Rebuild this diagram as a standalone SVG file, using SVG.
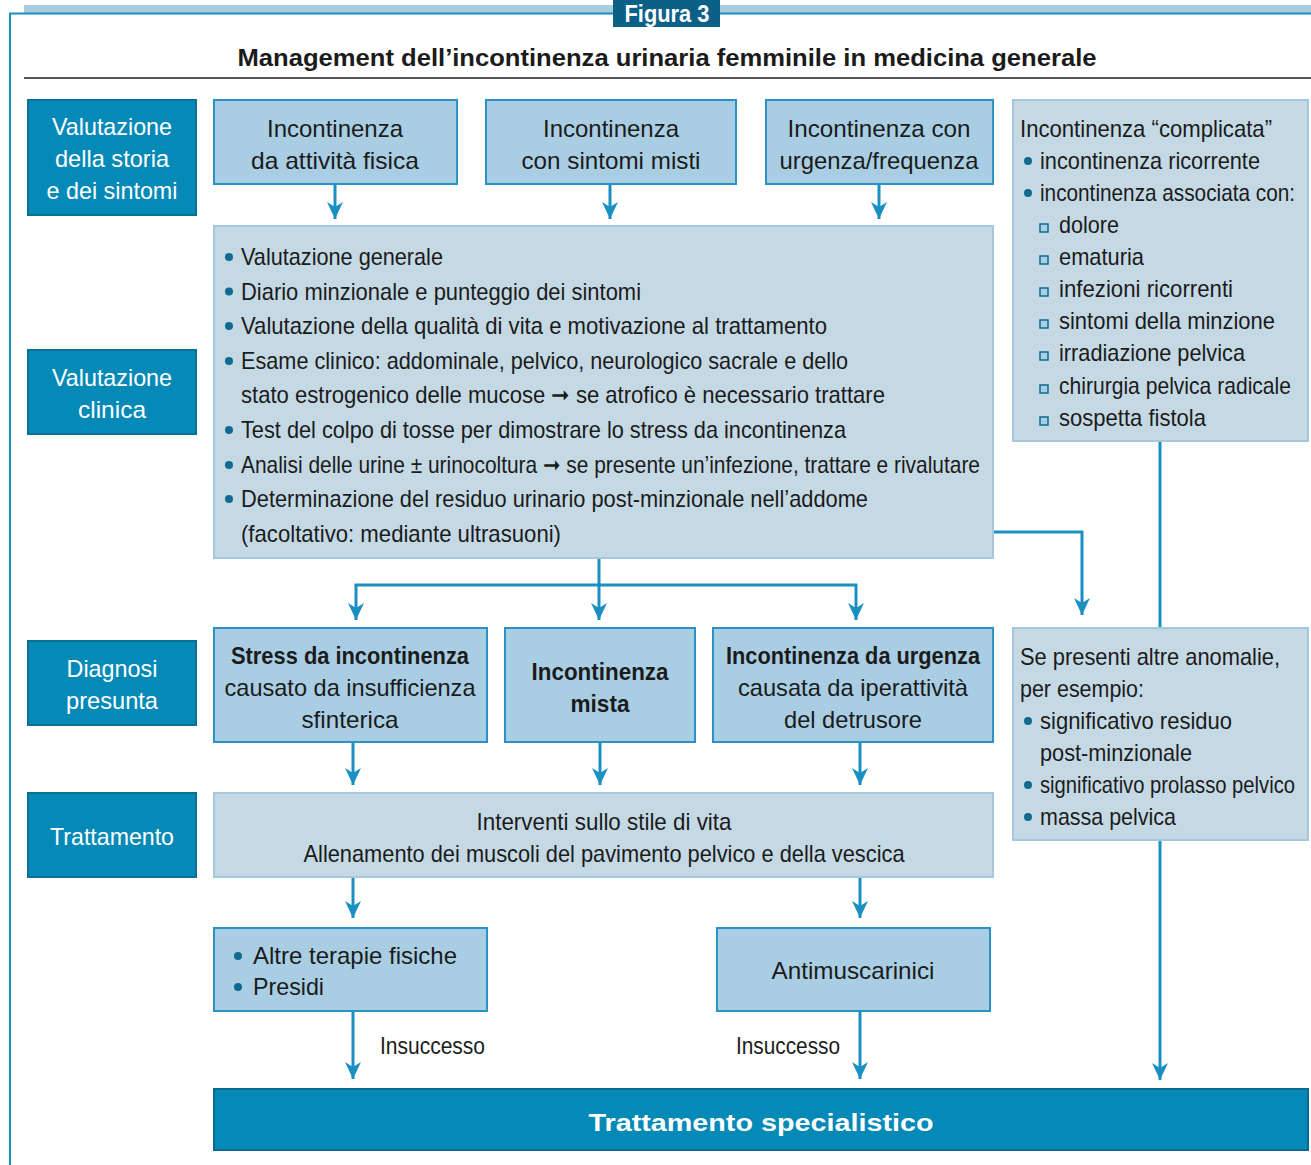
<svg xmlns="http://www.w3.org/2000/svg" width="1311" height="1165" viewBox="0 0 1311 1165">
<defs>
<marker id="ah" viewBox="0 0 17 16" refX="17" refY="8" markerWidth="17" markerHeight="16" markerUnits="userSpaceOnUse" orient="auto">
<path d="M0,0 L17,8 L0,16 L5,8 Z" fill="#1a8fc1"/>
</marker>
<style>
text{font-family:"Liberation Sans Narrow","Liberation Sans",Arial,sans-serif;fill:#1b1b1b;font-size:24px}
.w{fill:#ffffff}
.b{font-weight:bold}
.c{text-anchor:middle}
.dark{fill:#0589b7;stroke:#0b6f96;stroke-width:2}
.lb{fill:#a9cee3;stroke:#2a93c3;stroke-width:2}
.ll{fill:#c5d9e5;stroke:#a6c8dc;stroke-width:2}
.cn{fill:none;stroke:#1a8fc1;stroke-width:3}
.dot{fill:#0e6a90}
.sq{fill:#a9cee3;stroke:#0e6a90;stroke-width:1.5}
</style>
</defs>
<rect width="1311" height="1165" fill="#ffffff"/>
<g id="frame">
<rect x="24" y="5" width="1287" height="8" fill="#a9cde0"/>
<path d="M10,1165 V13.5 H1311" fill="none" stroke="#1a8fc1" stroke-width="2"/>
<rect x="613" y="0" width="107" height="27" fill="#0b6088"/>
<text x="667" y="22" class="w b c" font-size="23" textLength="85" lengthAdjust="spacingAndGlyphs">Figura 3</text>
<text x="667" y="66" class="b c" font-size="28" textLength="859" lengthAdjust="spacingAndGlyphs">Management dell’incontinenza urinaria femminile in medicina generale</text>
<line x1="24" y1="78" x2="1311" y2="78" stroke="#555555" stroke-width="2"/>
</g>
<g id="connectors">
<path class="cn" d="M335,184 V219" marker-end="url(#ah)"/>
<path class="cn" d="M610,184 V219" marker-end="url(#ah)"/>
<path class="cn" d="M879,184 V219" marker-end="url(#ah)"/>
<path class="cn" d="M599,558 V620" marker-end="url(#ah)"/>
<path class="cn" d="M599,585 H356 V620" marker-end="url(#ah)"/>
<path class="cn" d="M599,585 H856 V620" marker-end="url(#ah)"/>
<path class="cn" d="M993,532 H1082 V615" marker-end="url(#ah)"/>
<path class="cn" d="M1160,441 V628"/>
<path class="cn" d="M1160,840 V1080" marker-end="url(#ah)"/>
<path class="cn" d="M353,742 V785" marker-end="url(#ah)"/>
<path class="cn" d="M600,742 V785" marker-end="url(#ah)"/>
<path class="cn" d="M860,742 V785" marker-end="url(#ah)"/>
<path class="cn" d="M353,877 V918" marker-end="url(#ah)"/>
<path class="cn" d="M860,877 V918" marker-end="url(#ah)"/>
<path class="cn" d="M353,1011 V1079" marker-end="url(#ah)"/>
<path class="cn" d="M860,1011 V1079" marker-end="url(#ah)"/>
<text x="380" y="1054" font-size="22" textLength="105" lengthAdjust="spacingAndGlyphs">Insuccesso</text>
<text x="736" y="1054" font-size="22" textLength="104" lengthAdjust="spacingAndGlyphs">Insuccesso</text>
</g>
<g id="lbl-storia">
<rect class="dark" x="28" y="100" width="168" height="115"/>
<text x="112" y="135" class="w c" textLength="120" lengthAdjust="spacingAndGlyphs">Valutazione</text>
<text x="112" y="167" class="w c" textLength="114" lengthAdjust="spacingAndGlyphs">della storia</text>
<text x="112" y="199" class="w c" textLength="131" lengthAdjust="spacingAndGlyphs">e dei sintomi</text>
</g>
<g id="lbl-clinica">
<rect class="dark" x="28" y="350" width="168" height="84"/>
<text x="112" y="386" class="w c" textLength="120" lengthAdjust="spacingAndGlyphs">Valutazione</text>
<text x="112" y="418" class="w c" textLength="68" lengthAdjust="spacingAndGlyphs">clinica</text>
</g>
<g id="lbl-diagnosi">
<rect class="dark" x="28" y="641" width="168" height="84"/>
<text x="112" y="677" class="w c" textLength="91" lengthAdjust="spacingAndGlyphs">Diagnosi</text>
<text x="112" y="709" class="w c" textLength="92" lengthAdjust="spacingAndGlyphs">presunta</text>
</g>
<g id="lbl-trattamento">
<rect class="dark" x="28" y="793" width="168" height="84"/>
<text x="112" y="845" class="w c" textLength="124" lengthAdjust="spacingAndGlyphs">Trattamento</text>
</g>
<g id="n-fisica">
<rect class="lb" x="214" y="100" width="243" height="84"/>
<text x="335" y="137" class="c" textLength="136" lengthAdjust="spacingAndGlyphs">Incontinenza</text>
<text x="335" y="169" class="c" textLength="168" lengthAdjust="spacingAndGlyphs">da attività fisica</text>
</g>
<g id="n-misti">
<rect class="lb" x="486" y="100" width="250" height="84"/>
<text x="611" y="137" class="c" textLength="136" lengthAdjust="spacingAndGlyphs">Incontinenza</text>
<text x="611" y="169" class="c" textLength="179" lengthAdjust="spacingAndGlyphs">con sintomi misti</text>
</g>
<g id="n-urgenza">
<rect class="lb" x="766" y="100" width="227" height="84"/>
<text x="879" y="137" class="c" textLength="183" lengthAdjust="spacingAndGlyphs">Incontinenza con</text>
<text x="879" y="169" class="c" textLength="199" lengthAdjust="spacingAndGlyphs">urgenza/frequenza</text>
</g>
<g id="n-valutazione">
<rect class="ll" x="214" y="226" width="779" height="332"/>
<circle class="dot" cx="229" cy="257" r="4"/>
<text x="241" y="265" textLength="202" lengthAdjust="spacingAndGlyphs">Valutazione generale</text>
<circle class="dot" cx="229" cy="291.5" r="4"/>
<text x="241" y="299.5" textLength="400" lengthAdjust="spacingAndGlyphs">Diario minzionale e punteggio dei sintomi</text>
<circle class="dot" cx="229" cy="326" r="4"/>
<text x="241" y="334" textLength="586" lengthAdjust="spacingAndGlyphs">Valutazione della qualità di vita e motivazione al trattamento</text>
<circle class="dot" cx="229" cy="361" r="4"/>
<text x="241" y="369" textLength="607" lengthAdjust="spacingAndGlyphs">Esame clinico: addominale, pelvico, neurologico sacrale e dello</text>
<text x="241" y="403" textLength="644" lengthAdjust="spacingAndGlyphs">stato estrogenico delle mucose ➞ se atrofico è necessario trattare</text>
<circle class="dot" cx="229" cy="430" r="4"/>
<text x="241" y="438" textLength="605" lengthAdjust="spacingAndGlyphs">Test del colpo di tosse per dimostrare lo stress da incontinenza</text>
<circle class="dot" cx="229" cy="465" r="4"/>
<text x="241" y="473" textLength="739" lengthAdjust="spacingAndGlyphs">Analisi delle urine ± urinocoltura ➞ se presente un’infezione, trattare e rivalutare</text>
<circle class="dot" cx="229" cy="499" r="4"/>
<text x="241" y="507" textLength="627" lengthAdjust="spacingAndGlyphs">Determinazione del residuo urinario post-minzionale nell’addome</text>
<text x="241" y="542" textLength="320" lengthAdjust="spacingAndGlyphs">(facoltativo: mediante ultrasuoni)</text>
</g>
<g id="n-complicata">
<rect class="ll" x="1013" y="100" width="295" height="341"/>
<text x="1020" y="137" textLength="252" lengthAdjust="spacingAndGlyphs">Incontinenza “complicata”</text>
<circle class="dot" cx="1028" cy="161" r="4"/>
<text x="1040" y="169" textLength="220" lengthAdjust="spacingAndGlyphs">incontinenza ricorrente</text>
<circle class="dot" cx="1028" cy="193" r="4"/>
<text x="1040" y="201" textLength="255" lengthAdjust="spacingAndGlyphs">incontinenza associata con:</text>
<rect class="sq" x="1040" y="224" width="8" height="8"/>
<text x="1059" y="233" textLength="60" lengthAdjust="spacingAndGlyphs">dolore</text>
<rect class="sq" x="1040" y="256" width="8" height="8"/>
<text x="1059" y="265" textLength="85" lengthAdjust="spacingAndGlyphs">ematuria</text>
<rect class="sq" x="1040" y="288" width="8" height="8"/>
<text x="1059" y="297" textLength="174" lengthAdjust="spacingAndGlyphs">infezioni ricorrenti</text>
<rect class="sq" x="1040" y="320" width="8" height="8"/>
<text x="1059" y="329" textLength="216" lengthAdjust="spacingAndGlyphs">sintomi della minzione</text>
<rect class="sq" x="1040" y="352" width="8" height="8"/>
<text x="1059" y="361" textLength="186" lengthAdjust="spacingAndGlyphs">irradiazione pelvica</text>
<rect class="sq" x="1040" y="385" width="8" height="8"/>
<text x="1059" y="394" textLength="232" lengthAdjust="spacingAndGlyphs">chirurgia pelvica radicale</text>
<rect class="sq" x="1040" y="417" width="8" height="8"/>
<text x="1059" y="426" textLength="147" lengthAdjust="spacingAndGlyphs">sospetta fistola</text>
</g>
<g id="n-stress">
<rect class="lb" x="214" y="628" width="273" height="114"/>
<text x="350" y="664" class="b c" textLength="238" lengthAdjust="spacingAndGlyphs">Stress da incontinenza</text>
<text x="350" y="696" class="c" textLength="251" lengthAdjust="spacingAndGlyphs">causato da insufficienza</text>
<text x="350" y="728" class="c" textLength="97" lengthAdjust="spacingAndGlyphs">sfinterica</text>
</g>
<g id="n-mista">
<rect class="lb" x="505" y="628" width="190" height="114"/>
<text x="600" y="680" class="b c" textLength="137" lengthAdjust="spacingAndGlyphs">Incontinenza</text>
<text x="600" y="712" class="b c" textLength="59" lengthAdjust="spacingAndGlyphs">mista</text>
</g>
<g id="n-urg-det">
<rect class="lb" x="713" y="628" width="280" height="114"/>
<text x="853" y="664" class="b c" textLength="254" lengthAdjust="spacingAndGlyphs">Incontinenza da urgenza</text>
<text x="853" y="696" class="c" textLength="230" lengthAdjust="spacingAndGlyphs">causata da iperattività</text>
<text x="853" y="728" class="c" textLength="138" lengthAdjust="spacingAndGlyphs">del detrusore</text>
</g>
<g id="n-anomalie">
<rect class="ll" x="1013" y="628" width="295" height="212"/>
<text x="1020" y="665" textLength="260" lengthAdjust="spacingAndGlyphs">Se presenti altre anomalie,</text>
<text x="1020" y="697" textLength="124" lengthAdjust="spacingAndGlyphs">per esempio:</text>
<circle class="dot" cx="1028" cy="721" r="4"/>
<text x="1040" y="729" textLength="192" lengthAdjust="spacingAndGlyphs">significativo residuo</text>
<text x="1040" y="761" textLength="152" lengthAdjust="spacingAndGlyphs">post-minzionale</text>
<circle class="dot" cx="1028" cy="785" r="4"/>
<text x="1040" y="793" textLength="255" lengthAdjust="spacingAndGlyphs">significativo prolasso pelvico</text>
<circle class="dot" cx="1028" cy="817" r="4"/>
<text x="1040" y="825" textLength="136" lengthAdjust="spacingAndGlyphs">massa pelvica</text>
</g>
<g id="n-stile">
<rect class="ll" x="214" y="793" width="779" height="84"/>
<text x="604" y="830" class="c" textLength="255" lengthAdjust="spacingAndGlyphs">Interventi sullo stile di vita</text>
<text x="604" y="862" class="c" textLength="601" lengthAdjust="spacingAndGlyphs">Allenamento dei muscoli del pavimento pelvico e della vescica</text>
</g>
<g id="n-altre">
<rect class="lb" x="214" y="928" width="273" height="83"/>
<circle class="dot" cx="238" cy="956" r="4"/>
<text x="253" y="964" textLength="204" lengthAdjust="spacingAndGlyphs">Altre terapie fisiche</text>
<circle class="dot" cx="238" cy="987" r="4"/>
<text x="253" y="995" textLength="71" lengthAdjust="spacingAndGlyphs">Presidi</text>
</g>
<g id="n-antimuscarinici">
<rect class="lb" x="717" y="928" width="273" height="83"/>
<text x="853" y="979" class="c" textLength="163" lengthAdjust="spacingAndGlyphs">Antimuscarinici</text>
</g>
<g id="n-specialistico">
<rect x="214" y="1089" width="1094" height="61" fill="#0589b7" stroke="#0b6a8f" stroke-width="2"/>
<text x="761" y="1131" class="w b c" font-size="30" textLength="345" lengthAdjust="spacingAndGlyphs">Trattamento specialistico</text>
</g>
</svg>
